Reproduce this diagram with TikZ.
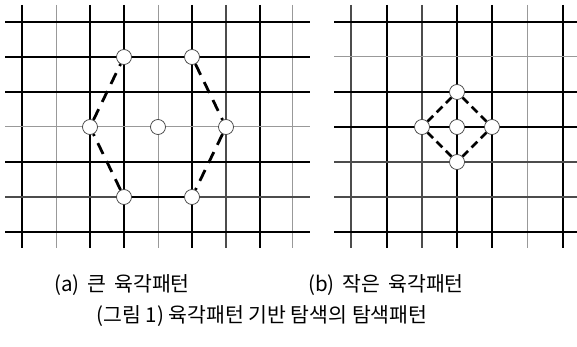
\documentclass[tikz,border=0pt]{standalone}
\usepackage{fontspec}
\newfontfamily\kr{Noto Sans CJK KR}
\begin{document}
\begin{tikzpicture}[x=1pt,y=-1pt,
 blk/.style={line width=1.5pt,black},
 gry/.style={line width=1pt,black!40},
 med/.style={line width=1.1pt,black!70},
 pnt/.style={circle,draw=black!75,fill=white,line width=0.7pt,minimum size=15pt,inner sep=0pt},
 hexdash/.style={line width=2.8pt,dash pattern=on 12pt off 8pt},
 smalldash/.style={line width=2.8pt,dash pattern=on 8pt off 5pt},
 hexsolid/.style={line width=2.6pt},
 lbl/.style={font=\kr\fontsize{20.5}{24}\selectfont,inner sep=0pt}]
\useasboundingbox (0,0) rectangle (577,347);
% left grid
\foreach \x/\st in {22/blk,56/gry,90/blk,124/blk,158/gry,192/blk,226/med,260/blk,292/gry}
  \draw[\st] (\x,5) -- (\x,248);
\foreach \y/\st in {22/blk,57/blk,92/blk,127/gry,162/blk,197/med,232/blk}
  \draw[\st] (5,\y) -- (310,\y);
% right grid
\foreach \x/\st in {351/med,387/blk,422/med,457/blk,492/blk,527/gry,563/blk}
  \draw[\st] (\x,5) -- (\x,248);
\foreach \y/\st in {22/blk,57/gry,92/blk,127/blk,162/med,197/med,232/blk}
  \draw[\st] (334,\y) -- (577,\y);
% large hexagon
\node[pnt] (h1) at (124,57) {};
\node[pnt] (h2) at (192,57) {};
\node[pnt] (h3) at (226,127) {};
\node[pnt] (h4) at (192,197) {};
\node[pnt] (h5) at (124,197) {};
\node[pnt] (h6) at (90,127) {};
\node[pnt] (hc) at (158,127) {};
\draw[hexsolid] (h1) -- (h2);
\draw[hexsolid] (h5) -- (h4);
\draw[hexdash] (h2) -- (h3);
\draw[hexdash] (h3) -- (h4);
\draw[hexdash] (h5) -- (h6);
\draw[hexdash] (h6) -- (h1);
% small hexagon
\node[pnt] (s1) at (457,92) {};
\node[pnt] (s2) at (492,127) {};
\node[pnt] (s3) at (457,162) {};
\node[pnt] (s4) at (422,127) {};
\node[pnt] (sc) at (457,127) {};
\draw[smalldash] (s1) -- (s2);
\draw[smalldash] (s2) -- (s3);
\draw[smalldash] (s3) -- (s4);
\draw[smalldash] (s4) -- (s1);
% labels
\node[lbl] (la) at (122,285) {(a)\, 큰\, 육각패턴};
\node[lbl] (lb) at (386,285) {(b)\, 작은\, 육각패턴};
\node[lbl] (cap) at (262,316) {(그림 1) 육각패턴 기반 탐색의 탐색패턴};
\end{tikzpicture}
\end{document}
